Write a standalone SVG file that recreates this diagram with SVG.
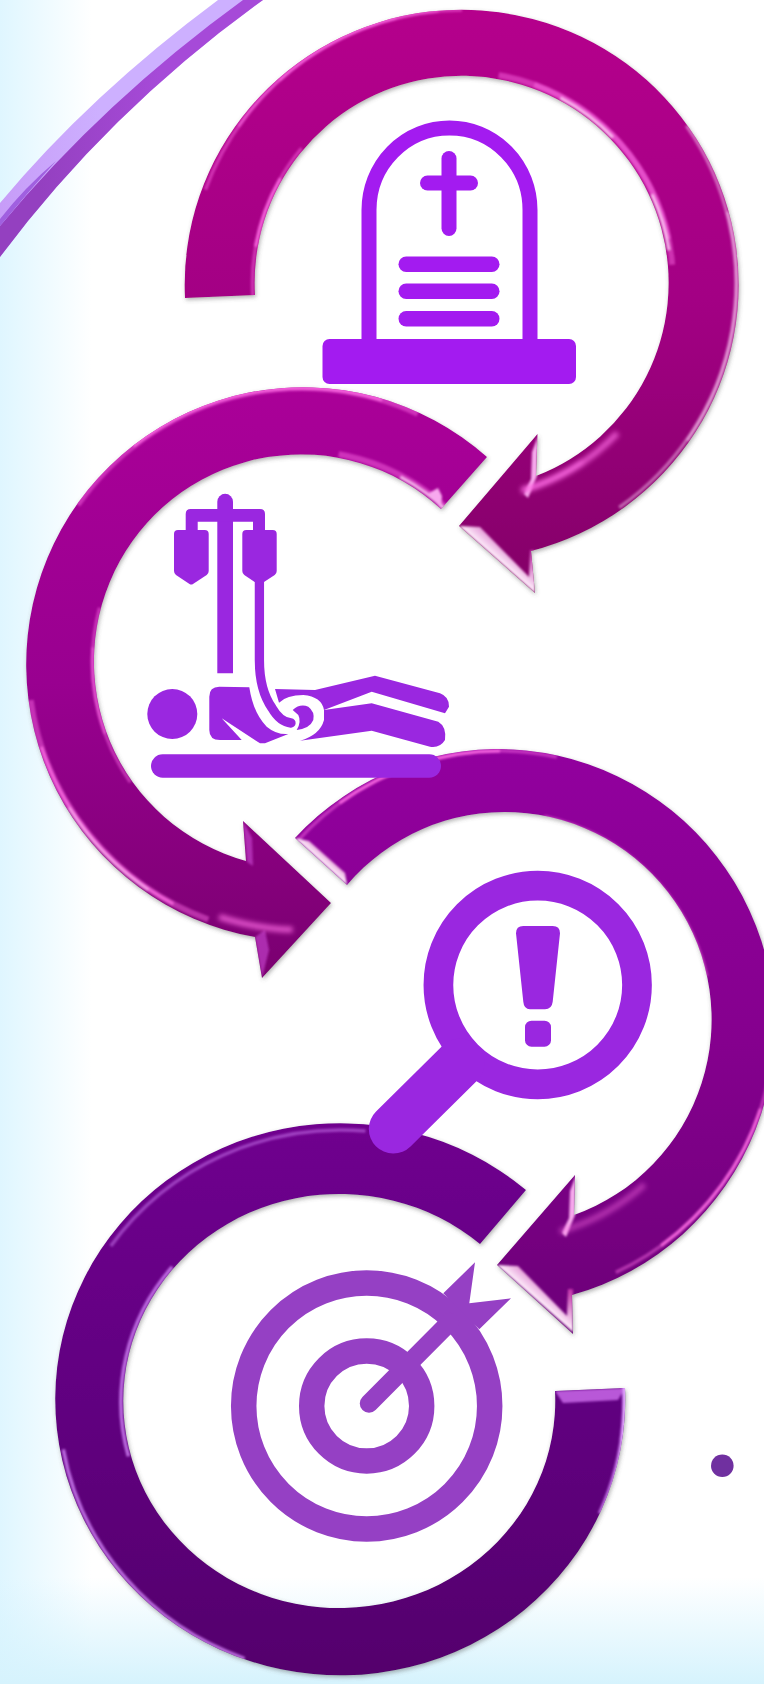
<svg xmlns="http://www.w3.org/2000/svg" xmlns:xlink="http://www.w3.org/1999/xlink" width="764" height="1684" viewBox="0 0 764 1684">
<style>
.hl{fill:none;stroke-linecap:butt}
.pk{stroke:#ff6ee6}
.wh{stroke:#ffd6f8}
.lv{stroke:#d98cff}
.s1{fill:#a31bf0}
.s2{fill:#9a27e0}
.s3{fill:#9540c4}
.w3{stroke-width:3.500}
.w5{stroke-width:6}
.o3{opacity:.45}
.o5{opacity:.75}
</style>
<defs>
<linearGradient id="bgL" x1="0" x2="1" y1="0" y2="0"><stop offset="0" stop-color="#dff6ff"/><stop offset="1" stop-color="#dff6ff" stop-opacity="0"/></linearGradient>
<linearGradient id="bgB" x1="0" x2="0" y1="0" y2="1"><stop offset="0" stop-color="#d6f3fd" stop-opacity="0"/><stop offset="1" stop-color="#d6f3fd"/></linearGradient>
<linearGradient id="g1" gradientUnits="userSpaceOnUse" x1="0" x2="0" y1="8" y2="590"><stop offset="0" stop-color="#b5008c"/><stop offset=".5" stop-color="#a30084"/><stop offset="1" stop-color="#840068"/></linearGradient>
<linearGradient id="g2" gradientUnits="userSpaceOnUse" x1="0" x2="0" y1="386" y2="980"><stop offset="0" stop-color="#aa0098"/><stop offset=".5" stop-color="#990090"/><stop offset="1" stop-color="#7a0070"/></linearGradient>
<linearGradient id="g3" gradientUnits="userSpaceOnUse" x1="0" x2="0" y1="748" y2="1335"><stop offset="0" stop-color="#92009e"/><stop offset=".5" stop-color="#85008e"/><stop offset="1" stop-color="#6c0078"/></linearGradient>
<linearGradient id="g4" gradientUnits="userSpaceOnUse" x1="0" x2="0" y1="1125" y2="1680"><stop offset="0" stop-color="#6f008e"/><stop offset=".5" stop-color="#610080"/><stop offset="1" stop-color="#54006c"/></linearGradient>
<linearGradient id="fc" x1="0" y1="1" x2="1" y2="0"><stop offset=".25" stop-color="#d050c0"/><stop offset=".5" stop-color="#fff0fc"/><stop offset=".8" stop-color="#c030a8"/></linearGradient>
<linearGradient id="mid" gradientUnits="userSpaceOnUse" x1="40" y1="0" x2="160" y2="0"><stop offset="0" stop-color="#9440c0"/><stop offset="1" stop-color="#a64ad8"/></linearGradient>
<linearGradient id="lite" gradientUnits="userSpaceOnUse" x1="0" y1="0" x2="100" y2="0"><stop offset="0" stop-color="#c79cf8"/><stop offset="1" stop-color="#cdb0ff"/></linearGradient>
<filter id="sh" x="-5%" y="-5%" width="110%" height="110%"><feDropShadow dx="1" dy="2" stdDeviation="2" flood-color="#555" flood-opacity=".45"/></filter>
<filter id="b1" filterUnits="userSpaceOnUse" x="0" y="0" width="764" height="1684"><feGaussianBlur stdDeviation="1"/></filter>
<filter id="b2" filterUnits="userSpaceOnUse" x="0" y="0" width="764" height="1684"><feGaussianBlur stdDeviation="2.500"/></filter>
<path id="p1" d="M185,298 A277,275 0 1 1 531,551 L535,593 L459,526 L537.500,434 L536,476 A207,207 0 1 0 255,295 Z"/>
<path id="p2" d="M487,457 A277,277 0 1 0 255,937 L262,978 L331,903 L243,821 L246,861 A207,207 0 1 1 441,509 Z"/>
<path id="p3" d="M295,838 A277,278 0 1 1 572,1295 L573,1334 L497,1265 L575,1175 L574,1215 A207,207.500 0 1 0 347,885 Z"/>
<path id="p4" d="M526,1190 A285,276 0 1 0 625,1388 L555,1391 A216,207 0 1 1 480,1244 Z"/>
<clipPath id="c1"><use xlink:href="#p1"/></clipPath>
<clipPath id="c2"><use xlink:href="#p2"/></clipPath>
<clipPath id="c3"><use xlink:href="#p3"/></clipPath>
<clipPath id="c4"><use xlink:href="#p4"/></clipPath>
<polygon id="facetA" points="459,526 480,527 529,577 530,550 535,550 535,593" fill="url(#fc)"/>
<polygon id="facetB" points="538,436 537,476 528,498 524,494 531,479 532,452" fill="#f6a8ec"/>
</defs>

<g id="background">
<rect width="764" height="1684" fill="#fff"/>
<rect width="92" height="1684" fill="url(#bgL)"/>
<rect y="1577" width="764" height="107" fill="url(#bgB)"/>
</g>

<g id="swoosh">
<path d="M0,257 Q110,110 263,0 L218,0 Q90,95 0,203 Z" fill="url(#lite)"/>
<path d="M0,257 Q110,110 263,0 L243,0 Q105,100 0,226 Z" fill="url(#mid)"/>
<path d="M0,226 Q28,192 56,161 Q25,187 0,219 Z" fill="#a060e0"/>
</g>

<g id="arrow-1">
<g filter="url(#sh)"><use xlink:href="#p1" fill="url(#g1)"/></g>
<g clip-path="url(#c1)">
<g filter="url(#b1)">
<g transform="translate(462 283)">
<circle class="hl pk w3 o3" r="273" pathLength="360" stroke-dasharray="70 360" transform="rotate(200)"/>
<circle class="hl pk w3 o3" r="273" pathLength="360" stroke-dasharray="50 360" transform="rotate(215)"/>
<circle class="hl pk w3 o3" r="273" pathLength="360" stroke-dasharray="28 360" transform="rotate(228)"/>
<circle class="hl wh w3 o3" r="274" pathLength="360" stroke-dasharray="90 360" transform="rotate(325)"/>
<circle class="hl wh w3 o3" r="275" pathLength="360" stroke-dasharray="50 360" transform="rotate(345)"/>
<circle class="hl pk w5 o3" r="211" pathLength="360" stroke-dasharray="75 360" transform="rotate(280)"/>
<circle class="hl pk w5 o3" r="211" pathLength="360" stroke-dasharray="58 360" transform="rotate(290)"/>
<circle class="hl wh w3 o5" r="209.500" pathLength="360" stroke-dasharray="18 360" transform="rotate(298)"/>
<circle class="hl wh w3 o5" r="209.500" pathLength="360" stroke-dasharray="16 360" transform="rotate(335)"/>
<circle class="hl pk w3 o3" r="209.500" pathLength="360" stroke-dasharray="45 360" transform="rotate(175)"/>
<circle class="hl pk w3 o5" r="209.500" pathLength="360" stroke-dasharray="20 360" transform="rotate(190)"/>
</g>
<use xlink:href="#facetA"/>
<use xlink:href="#facetB"/>
</g>
<g filter="url(#b2)">
<g transform="translate(462 283)">
<circle class="hl pk w5 o5" r="216" pathLength="360" stroke-dasharray="30 360" transform="rotate(44)"/>
<circle class="hl pk w5 o5" r="216" pathLength="360" stroke-dasharray="18 360" transform="rotate(56)"/>
</g>
</g>
</g>
</g>

<g id="arrow-2">
<g filter="url(#sh)"><use xlink:href="#p2" fill="url(#g2)"/></g>
<g clip-path="url(#c2)">
<g filter="url(#b1)">
<g transform="translate(302 662)">
<circle class="hl pk w5 o3" r="274" pathLength="360" stroke-dasharray="80 360" transform="rotate(215)"/>
<circle class="hl pk w3 o5" r="274" pathLength="360" stroke-dasharray="55 360" transform="rotate(232)"/>
<circle class="hl pk w5 o3" r="274" pathLength="360" stroke-dasharray="62 360" transform="rotate(110)"/>
<circle class="hl pk w3 o5" r="274" pathLength="360" stroke-dasharray="44 360" transform="rotate(118)"/>
<circle class="hl wh w3 o3" r="275" pathLength="360" stroke-dasharray="24 360" transform="rotate(124)"/>
<circle class="hl pk w5 o3" r="211" pathLength="360" stroke-dasharray="48 360" transform="rotate(280)"/>
<circle class="hl wh w3 o5" r="209.500" pathLength="360" stroke-dasharray="20 360" transform="rotate(298)"/>
<circle class="hl pk w3 o3" r="209.500" pathLength="360" stroke-dasharray="50 360" transform="rotate(145)"/>
<circle class="hl pk w3 o3" r="209.500" pathLength="360" stroke-dasharray="24 360" transform="rotate(160)"/>
</g>
<polygon points="429,493 441,509 442,496 438,488" fill="#f8a8ee"/>
<polygon points="243,821 252,838 253,866 247,862" fill="#c040c8" opacity=".7"/>
<polygon points="262,978 269,950 265,930 255,937" fill="#c040c8" opacity=".7"/>
</g>
<g filter="url(#b2)">
<g transform="translate(302 662)">
<circle class="hl pk w5 o5" r="268" pathLength="360" stroke-dasharray="16 360" transform="rotate(92)"/>
</g>
</g>
</g>
</g>

<g id="arrow-3">
<g filter="url(#sh)"><use xlink:href="#p3" fill="url(#g3)"/></g>
<g clip-path="url(#c3)">
<g filter="url(#b1)">
<g transform="translate(500 1024)">
<circle class="hl pk w3 o3" r="273" pathLength="360" stroke-dasharray="60 360" transform="rotate(222)"/>
<circle class="hl pk w3 o5" r="273" pathLength="360" stroke-dasharray="36 360" transform="rotate(234)"/>
<circle class="hl pk w5 o3" r="211" pathLength="360" stroke-dasharray="65 360" transform="rotate(282)"/>
<circle class="hl wh w3 o5" r="209.500" pathLength="360" stroke-dasharray="24 360" transform="rotate(320)"/>
<circle class="hl pk w3 o3" r="274" pathLength="360" stroke-dasharray="60 360" transform="rotate(5)"/>
<circle class="hl pk w3 o5" r="274" pathLength="360" stroke-dasharray="36 360" transform="rotate(18)"/>
</g>
<polygon points="295,838 309,841 345,873 347,885" fill="url(#fc)"/>
<use xlink:href="#facetA" transform="translate(38,739)"/>
<use xlink:href="#facetB" transform="translate(38,739)"/>
</g>
<g filter="url(#b2)">
<g transform="translate(500 1024)">
<circle class="hl pk w5 o3" r="216" pathLength="360" stroke-dasharray="26 360" transform="rotate(48)"/>
</g>
</g>
</g>
</g>

<g id="arrow-4">
<g filter="url(#sh)"><use xlink:href="#p4" fill="url(#g4)"/></g>
<g clip-path="url(#c4)">
<g filter="url(#b1)">
<g transform="translate(341 1402) scale(1.033 1)">
<circle class="hl lv w3 o5" r="273" pathLength="360" stroke-dasharray="60 360" transform="rotate(110)"/>
<circle class="hl lv w3 o5" r="274" pathLength="360" stroke-dasharray="40 360" transform="rotate(-16)"/>
<circle class="hl lv w3 o3" r="274" pathLength="360" stroke-dasharray="22 360" transform="rotate(-14)"/>
<circle class="hl lv w3 o3" r="272" pathLength="360" stroke-dasharray="60 360" transform="rotate(215)"/>
</g>
<g transform="translate(340 1402) scale(1.043 1)">
<circle class="hl lv w3 o5" r="210" pathLength="360" stroke-dasharray="55 360" transform="rotate(165)"/>
</g>
<polygon points="555,1391 625,1388 618,1400 563,1403" fill="#c868e8" opacity=".85"/>
<path d="M623,1388 L625,1388 Q626,1450 612,1490" fill="none" stroke="#e6b0ff" stroke-width="3"/>
</g>
</g>
</g>

<g id="icon-gravestone">
<rect class="s1" x="322.500" y="339" width="253.500" height="45" rx="7"/>
<path d="M369,340 V210 A80.500,82 0 0 1 530,210 V340" fill="none" stroke="#a31bf0" stroke-width="15"/>
<rect class="s1" x="441.500" y="151" width="15" height="85" rx="7.500"/>
<rect class="s1" x="420" y="175.500" width="58" height="15" rx="7.500"/>
<rect class="s1" x="398.500" y="256.500" width="101" height="15.500" rx="7.700"/>
<rect class="s1" x="398.500" y="283.500" width="101" height="15.500" rx="7.700"/>
<rect class="s1" x="398.500" y="311" width="101" height="15.500" rx="7.700"/>
</g>

<g id="icon-patient">
<path class="s2" d="M217.300,673.300 V501.700 A7.800,7.800 0 0 1 233,501.700 V673.300 Z"/>
<path class="s2" d="M185.700,530 V514 Q185.700,509 190.700,509 H260 Q265,509 265,514 V530 H253 V521.700 H197.700 V530 Z"/>
<path class="s2" d="M174,534 Q174,530 178,530 H204.700 Q208.700,530 208.700,534 V571 Q208.700,573.500 206.700,575 L193,584 Q191.300,585 189.500,584 L176,575 Q174,573.500 174,571 Z"/>
<path class="s2" d="M242.300,534 Q242.300,530 246.300,530 H272.700 Q276.700,530 276.700,534 V571 Q276.700,573.500 274.700,575 L264,582 L254.700,582 L244.300,575 Q242.300,573.500 242.300,571 Z"/>
<path d="M259.400,580 V660 Q259.400,690 272,708 Q280,722 291,723" fill="none" stroke="#9a27e0" stroke-width="9.300" stroke-linecap="round"/>
<circle class="s2" cx="172.300" cy="714" r="25"/>
<path class="s2" d="M209.300,696.700 Q209.300,686.700 219.300,686.700 L249.300,687.300 Q253.300,713.300 266.700,726.700 Q276.700,735 288.300,734 L265,743.300 L260,743.300 L221.700,718.300 L241.700,740 L220,740 Q209.300,740 209.300,730 Z"/>
<path class="s2" d="M275,689 L315,690 L375,675.700 L440,693.300 Q449.300,696.700 449,706.700 L445,713.300 L371.700,691.700 L324,710 Q321.700,696.700 303.300,695 Q286.700,695 279,702.700 Z"/>
<path class="s2" d="M324,710 L371.700,703.300 L438.300,721.700 Q446.700,726.700 445,740 Q440,748.300 430,746.700 L371.700,730.700 L300,740.700 Q320,735 324,720 Z"/>
<path class="s2" d="M292.700,710 Q300,703.300 308.300,706.700 Q315,711.700 313.300,720 Q310,728.300 296.700,730 Q301.700,721.700 298.300,715 Z"/>
<rect class="s2" x="151" y="754.300" width="290" height="23.400" rx="11.700"/>
</g>

<g id="icon-magnifier">
<circle cx="537.700" cy="985" r="99.300" fill="none" stroke="#9a27e0" stroke-width="29.700"/>
<line x1="460" y1="1063" x2="393.300" y2="1129" stroke="#9a27e0" stroke-width="49" stroke-linecap="round"/>
<path class="s2" d="M516,933.300 Q516,926 523.300,926 L552.700,926 Q560,926 560,933.300 L552.700,1001.700 Q551.700,1009.300 545,1009.300 L530,1009.300 Q524,1009.300 523.300,1001.700 Z"/>
<rect class="s2" x="525" y="1020.700" width="26" height="26" rx="6.500"/>
</g>

<g id="icon-target">
<circle cx="366.700" cy="1406" r="123" fill="none" stroke="#9540c4" stroke-width="25.500"/>
<circle cx="366.700" cy="1406" r="55" fill="none" stroke="#9540c4" stroke-width="25.400"/>
<line x1="369" y1="1403.500" x2="450" y2="1322" stroke="#9540c4" stroke-width="18.500" stroke-linecap="round"/>
<polygon class="s3" points="475,1262.300 469.300,1303.300 511,1298.300 479.300,1329.300 443.300,1293.300"/>
</g>

<circle id="bullet" cx="722.300" cy="1465.700" r="11.300" fill="#7030a0"/>
</svg>
